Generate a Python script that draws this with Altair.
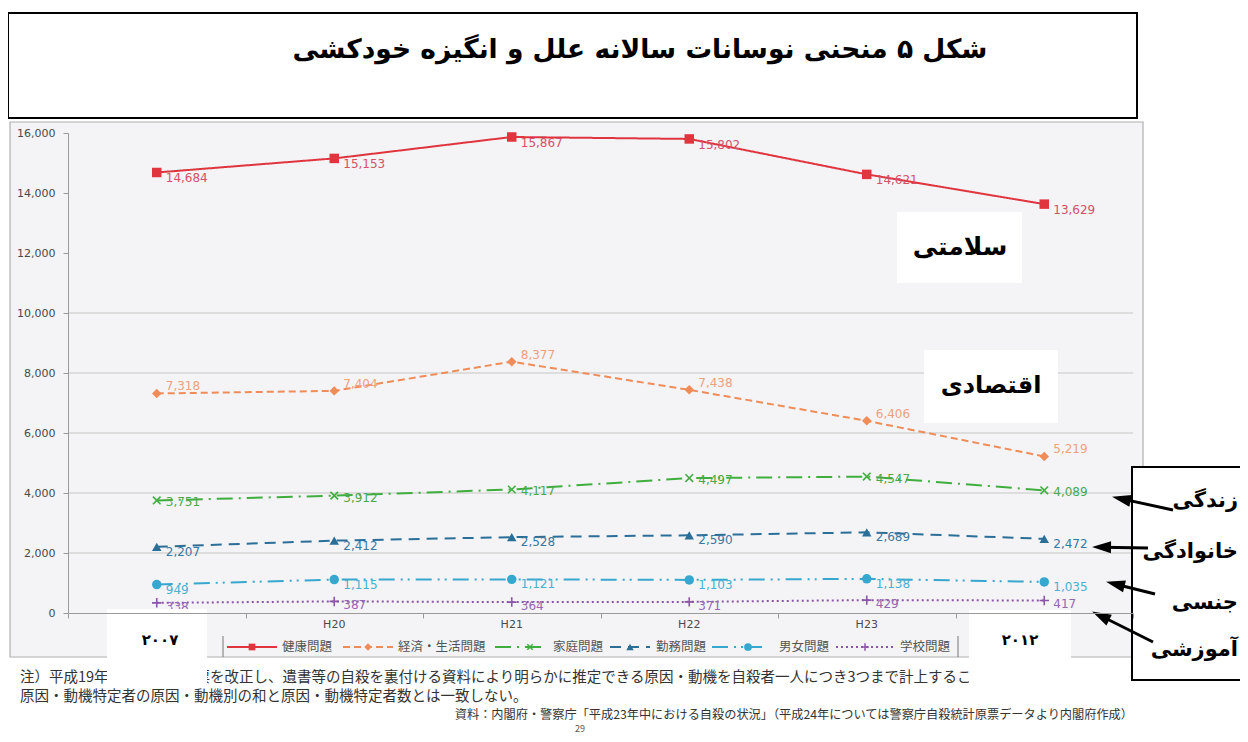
import math
import altair as alt
import pandas as pd

# ---------------- data ----------------
years = ["H19", "H20", "H21", "H22", "H23", "H24"]
series = ["健康問題", "経済・生活問題", "家庭問題", "勤務問題", "男女問題", "学校問題"]
health = [14684, 15153, 15867, 15802, 14621, 13629]
economy = [7318, 7404, 8377, 7438, 6406, 5219]
family = [3751, 3912, 4117, 4497, 4547, 4089]
work = [2207, 2412, 2528, 2590, 2689, 2472]
gender = [949, 1115, 1121, 1103, 1138, 1035]
school = [338, 387, 364, 371, 429, 417]
y_ticks = list(range(0, 16001, 2000))
grid_values = [2000, 4000, 6000, 8000, 10000]

title_text = "شکل ۵  منحنی نوسانات سالانه علل و انگیزه خودکشی"
box_labels = ["سلامتی", "اقتصادی"]
year_labels = ["۲۰۰۷", "۲۰۱۲"]
side_labels = ["زندگی", "خانوادگی", "جنسی", "آموزشی"]
note1 = "注）平成19年に自殺統計原票を改正し、遺書等の自殺を裏付ける資料により明らかに推定できる原因・動機を自殺者一人につき3つまで計上することとしたため、"
note2 = "原因・動機特定者の原因・動機別の和と原因・動機特定者数とは一致しない。"
source = "資料：内閣府・警察庁「平成23年中における自殺の状況」（平成24年については警察庁自殺統計原票データより内閣府作成）"
page_no = "29"

values = [health, economy, family, work, gender, school]

# ---------------- styles ----------------
W, H = 1065, 480
colors = ["#e0343f", "#f08c58", "#3fae3f", "#2b6e98", "#36a8cf", "#8b55a8"]
label_colors = ["#d65068", "#f0a080", "#4aa84a", "#3a78a2", "#48b0d2", "#9466b4"]
dashes = [[1, 0], [7, 4], [16, 6, 2, 6], [11, 7], [16, 6, 2, 5, 2, 6], [2, 3]]
X_PATH = "M-0.8,-0.8L0.8,0.8M-0.8,0.8L0.8,-0.8"
PLUS_PATH = "M-1,0L1,0M0,-1L0,1"
shapes = ["square", "diamond", X_PATH, "triangle-up", "circle", PLUS_PATH]
label_dy = [6, -7, 2, 5, 5, 4]
filled_series = [series[0], series[1], series[3], series[4]]
stroke_series = [series[2], series[5]]

rows = []
for s, vals in zip(series, values):
    for i, (yr, v) in enumerate(zip(years, vals)):
        rows.append({"series": s, "year": yr, "xi": i + 0.5, "value": v})
df = pd.DataFrame(rows)
ydf = pd.DataFrame({"year": years, "xi": [i + 0.5 for i in range(len(years))]})

xscale = alt.Scale(domain=[0, 6], nice=False, zero=False)
yscale = alt.Scale(domain=[0, 16000], nice=False, zero=True)
xaxis = alt.Axis(values=list(range(7)), labels=False, ticks=True, tickSize=5,
                 tickColor="#9a9a9a", domainColor="#9a9a9a", grid=False, title=None,
                 zindex=1)
yaxis = alt.Axis(values=y_ticks, format=",.0f", tickSize=5, tickColor="#9a9a9a",
                 domainColor="#9a9a9a", grid=False, title=None, labelPadding=8,
                 labelFont="DejaVu Sans", labelFontSize=11, labelColor="#4a4a4a",
                 zindex=1)


def X(f):
    return alt.X(f, type="quantitative", scale=xscale, axis=xaxis)


def Y(f):
    return alt.Y(f, type="quantitative", scale=yscale, axis=yaxis)


def one():
    return pd.DataFrame({"k": [0]})


def rect(x1, y1, x2, y2, fill="white", stroke=None, sw=0):
    kw = dict(fill=fill)
    if stroke:
        kw.update(stroke=stroke, strokeWidth=sw)
    return alt.Chart(one()).mark_rect(**kw).encode(
        x=alt.value(x1), x2=alt.value(x2), y=alt.value(y1), y2=alt.value(y2))


def txt(t, x, y, size, weight="normal", align="center", font="DejaVu Sans", color="black"):
    return alt.Chart(one()).mark_text(
        text=t, fontSize=size, fontWeight=weight, align=align, baseline="middle",
        font=font, color=color).encode(x=alt.value(x), y=alt.value(y))


def seg(x1, y1, x2, y2, color="black", sw=1.0, dash=None):
    kw = dict(color=color, strokeWidth=sw)
    if dash:
        kw["strokeDash"] = dash
    return alt.Chart(one()).mark_rule(**kw).encode(
        x=alt.value(x1), y=alt.value(y1), x2=alt.value(x2), y2=alt.value(y2))


def pt(x, y, shape, color, size, filled=True, angle=0, sw=1.5):
    kw = dict(shape=shape, size=size, filled=filled, opacity=1, strokeWidth=sw)
    if angle:
        kw["angle"] = angle
    if filled:
        kw["fill"] = color
        kw["stroke"] = color
        kw["strokeWidth"] = 0
    else:
        kw["stroke"] = color
    return alt.Chart(one()).mark_point(**kw).encode(x=alt.value(x), y=alt.value(y))


layers = []

# outer frame of the figure
layers.append(rect(-58, -11, 1075, 524, fill="#f4f4f6", stroke="#b0b0b0", sw=1.2))

# gridlines
layers.append(alt.Chart(pd.DataFrame({"g": grid_values})).mark_rule(
    color="#c6c6c6", strokeWidth=1).encode(y=Y("g"), x=alt.value(0), x2=alt.value(W)))

# lines
layers.append(alt.Chart(df).mark_line(strokeWidth=2).encode(
    x=X("xi"), y=Y("value"),
    color=alt.Color("series:N", scale=alt.Scale(domain=series, range=colors), legend=None),
    strokeDash=alt.StrokeDash("series:N", scale=alt.Scale(domain=series, range=dashes), legend=None),
    detail="series:N"))

shape_enc = alt.Shape("series:N", scale=alt.Scale(domain=series, range=shapes), legend=None)
color_enc = alt.Color("series:N", scale=alt.Scale(domain=series, range=colors), legend=None)

layers.append(alt.Chart(df).transform_filter(
    alt.FieldOneOfPredicate(field="series", oneOf=filled_series)).mark_point(
    filled=True, size=90, opacity=1).encode(x=X("xi"), y=Y("value"), shape=shape_enc, color=color_enc))
layers.append(alt.Chart(df).transform_filter(
    alt.FieldOneOfPredicate(field="series", oneOf=stroke_series)).mark_point(
    filled=False, size=90, opacity=1, strokeWidth=1.6).encode(x=X("xi"), y=Y("value"), shape=shape_enc, color=color_enc))

# value labels
for i, s in enumerate(series):
    layers.append(alt.Chart(df[df.series == s]).mark_text(
        align="left", baseline="middle", dx=9, dy=label_dy[i], fontSize=12,
        font="DejaVu Sans", color=label_colors[i]).encode(
        x=X("xi"), y=Y("value"), text=alt.Text("value:Q", format=",")))

# x tick labels
layers.append(alt.Chart(ydf).mark_text(
    baseline="middle", fontSize=11, font="DejaVu Sans", color="#4a4a4a").encode(
    x=X("xi"), y=alt.value(H + 12), text="year:N"))

# legend (manual, like the original)
leg_y = 514
leg_layout = [(159, 209, 184, 214), (275, 325, 300, 330), (427, 477, 462, 485),
              (542, 582, 562, 588), (644, 694, 680, 711), (768, 826, 797, 832)]
leg_sizes = [45, 55, 45, 55, 60, 60]
layers.append(seg(155, 503, 155, 524, color="#777", sw=1))
layers.append(seg(890, 503, 890, 524, color="#777", sw=1))
for i, s in enumerate(series):
    a, b, m, t = leg_layout[i]
    layers.append(seg(a, leg_y, b, leg_y, color=colors[i], sw=2, dash=dashes[i]))
    layers.append(pt(m, leg_y, shapes[i], colors[i], leg_sizes[i],
                     filled=(s in filled_series)))
    layers.append(txt(s, t, leg_y, 12.5, align="left", font="Noto Sans CJK JP", color="#555"))

# notes below
layers.append(txt(note1, -48, 545, 14.5, align="left", font="Noto Sans CJK JP", color="#333"))
layers.append(txt(note2, -48, 564, 14.5, align="left", font="Noto Sans CJK JP", color="#333"))
layers.append(txt(source, 1065, 582, 12.2, align="right", font="Noto Sans CJK JP", color="#333"))
layers.append(txt(page_no, 512, 596, 9, font="Noto Sans CJK JP", color="#555"))

# white cover boxes with Persian labels
layers.append(rect(829, 79, 954, 150))
layers.append(txt(box_labels[0], 892, 114, 25, weight="bold"))
layers.append(rect(856, 217, 990, 290))
layers.append(txt(box_labels[1], 923, 253, 24, weight="bold"))
layers.append(rect(39, 476, 139, 555))
layers.append(txt(year_labels[0], 92, 507, 15, weight="bold"))
layers.append(rect(901, 477, 1003, 555))
layers.append(txt(year_labels[1], 952, 507, 15, weight="bold"))

# title box
layers.append(rect(-60, -120, 1069, -15, fill="white", stroke="black", sw=2))
layers.append(txt(title_text, 572, -83, 26.5, weight="bold"))

# right box with labels and arrows
layers.append(rect(1064, 334, 1190, 547, fill="white", stroke="black", sw=2))
side_y = [368, 419, 470, 517]
for lab, yy in zip(side_labels, side_y):
    layers.append(txt(lab, 1170, yy, 21, weight="bold", align="right"))

ARROW = "M0,-1L0.6,0.9L-0.6,0.9Z"
arrows = [((1105, 377), (1045, 364)), ((1080, 415), (1025, 414)),
          ((1087, 461), (1039, 449)), ((1085, 509), (1025, 479))]
for (tx, ty), (hx, hy) in arrows:
    dx, dy = hx - tx, hy - ty
    n = math.hypot(dx, dy)
    ux, uy = dx / n, dy / n
    cx, cy = hx - 9 * ux, hy - 9 * uy
    ang = math.degrees(math.atan2(dx, -dy)) % 360
    layers.append(seg(tx, ty, cx, cy, color="black", sw=3))
    layers.append(pt(cx, cy, ARROW, "black", 400, filled=True, angle=ang))

chart = alt.layer(*layers).properties(
    width=W, height=H,
    autosize=alt.AutoSizeParams(type="none"),
    padding={"left": 60, "top": 125, "right": 107, "bottom": 121},
    background="white",
).configure_view(stroke=None)

chart.save("out.html", embed_options={"renderer": "svg", "actions": False})
